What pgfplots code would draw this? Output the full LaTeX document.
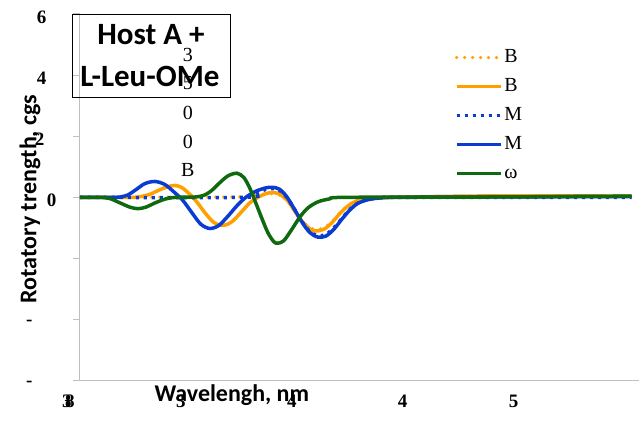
\documentclass[border=0pt]{standalone}
\usepackage{pgfplots}
\pgfplotsset{compat=1.18}
\usepackage{fontspec}
\setmainfont{Liberation Serif}
\newfontfamily\carlito{Carlito}
\definecolor{corange}{HTML}{FFA000}
\definecolor{cblue}{HTML}{0A3CD2}
\definecolor{cgreen}{HTML}{0F6A0F}
\definecolor{axgray}{HTML}{BFBFBF}
\begin{document}
\begin{tikzpicture}[x=1pt,y=1pt]
\path (0,0) rectangle (639,421);
\begin{axis}[at={(80pt,40pt)}, anchor=south west, width=559pt, height=367pt, scale only axis,
  xmin=0, xmax=559, ymin=-6, ymax=6,
  axis x line=bottom, axis y line=left,
  axis line style={axgray, line width=1pt, -},
  x axis line style={shorten <=-7pt},
  xtick={0,111,222,333,444}, xticklabels={\rlap{\kern-3pt 3}8,3,4,4,5},
  xtick style={draw=none},
  xticklabel style={xshift=-10pt, yshift=-4pt, font=\bfseries\fontsize{19}{19}\selectfont},
  ytick={-6,-4,-2,0,2,4,6},
  yticklabels={-\rule{24pt}{0pt},-\rule{24pt}{0pt},-\rule{24pt}{0pt},0,2\rule{12pt}{0pt},4\rule{10pt}{0pt},6\rule{10pt}{0pt}},
  yticklabel style={yshift=-3pt, xshift=-13pt, font=\bfseries\fontsize{19}{19}\selectfont},
  ytick style={axgray, line width=1pt},
  tick align=outside, major tick length=7pt,
  every axis plot/.append style={line width=3.5pt},
  legend style={at={(axis cs:375,4.94)}, anchor=north west, draw=none, fill=none, inner sep=0pt,
    font=\fontsize{20}{20}\selectfont, row sep=7pt,
    nodes={text height=14pt, text depth=4pt, inner sep=2pt}},
  legend cell align=left,
  legend image code/.code={\draw[#1] (0pt,0pt) -- (44pt,0pt);},
]
\addplot[corange, line cap=round, dash pattern=on 0pt off 8pt, smooth] coordinates {
(0,0) (150,0.01) (170,0.05) (180,0.09) (192,0.12) (200,0.07) (208,-0.12) (216,-0.48) (224,-0.82) (231,-1.0) (237,-1.05) (245,-0.98) (253,-0.76) (261,-0.47) (270,-0.22) (280,-0.07) (292,-0.02) (310,0) (360,0.03) (420,0.05) (480,0.05) (552,0.04)};
\addlegendentry{B}
\addplot[corange, smooth] coordinates {
(0,0) (50,0) (60,0.02) (70,0.1) (80,0.25) (88,0.35) (95,0.39) (102,0.32) (110,0.1) (117,-0.15) (125,-0.5) (134,-0.82) (143,-0.92) (152,-0.8) (161,-0.5) (170,-0.18) (178,0) (186,0.12) (193,0.16) (200,0.1) (208,-0.12) (216,-0.5) (224,-0.85) (231,-1.05) (237,-1.1) (245,-1.03) (253,-0.8) (261,-0.5) (270,-0.24) (280,-0.08) (292,-0.02) (310,0) (360,0.03) (420,0.05) (480,0.05) (552,0.04)};
\addlegendentry{B}
\addplot[cblue, dash pattern=on 3pt off 5pt, smooth] coordinates {
(0,0) (165,0) (175,0.12) (186,0.26) (193,0.29) (200,0.22) (207,0) (214,-0.35) (222,-0.78) (230,-1.12) (238,-1.25) (246,-1.22) (254,-1.0) (262,-0.7) (270,-0.4) (278,-0.19) (288,-0.07) (300,-0.02) (320,0) (552,0)};
\addlegendentry{M}
\addplot[cblue, smooth] coordinates {
(0,0) (30,0) (40,0.01) (48,0.08) (56,0.25) (65,0.45) (75,0.52) (85,0.42) (95,0.15) (103,-0.1) (112,-0.5) (121,-0.88) (130,-1.02) (139,-0.92) (148,-0.62) (157,-0.28) (166,0) (176,0.2) (186,0.31) (193,0.33) (200,0.26) (207,0.02) (214,-0.35) (222,-0.8) (230,-1.15) (238,-1.3) (246,-1.27) (254,-1.05) (262,-0.72) (270,-0.42) (278,-0.2) (288,-0.08) (300,-0.02) (320,0) (400,0.01) (480,0.02) (552,0.02)};
\addlegendentry{M}
\addplot[cgreen, smooth] coordinates {
(0,0) (20,0) (30,-0.04) (40,-0.18) (50,-0.32) (58,-0.37) (66,-0.32) (76,-0.17) (86,-0.05) (96,0) (115,0.01) (125,0.08) (132,0.23) (140,0.48) (148,0.7) (157,0.79) (164,0.65) (170,0.3) (175,-0.1) (181,-0.6) (188,-1.15) (194,-1.45) (198,-1.5) (204,-1.42) (212,-1.05) (220,-0.65) (228,-0.35) (238,-0.15) (250,-0.05) (265,0) (400,0.01) (552,0.04)};
\addlegendentry{ω}
\end{axis}
\draw[black, line width=0.8pt] (72,407) rectangle (231,324);
\node[font=\carlito\bfseries\fontsize{31}{31}\selectfont] at (151,386) {Host A +};
\node[font=\carlito\bfseries\fontsize{31}{31}\selectfont] at (150,344) {L-Leu-OMe};
\begin{scope}[every node/.style={font=\fontsize{20}{20}\selectfont}]
\node at (188,366) {3};
\node at (188,338) {5};
\node at (188,308) {0};
\node at (188,279) {0};
\node at (188,251) {B};
\end{scope}
\node[rotate=90, font=\carlito\bfseries\fontsize{24}{24}\selectfont] at (30,222) {Rotatory trength, cgs};
\node[font=\carlito\bfseries\fontsize{24}{24}\selectfont] at (232,26) {Wavelengh, nm};
\end{tikzpicture}
\end{document}
